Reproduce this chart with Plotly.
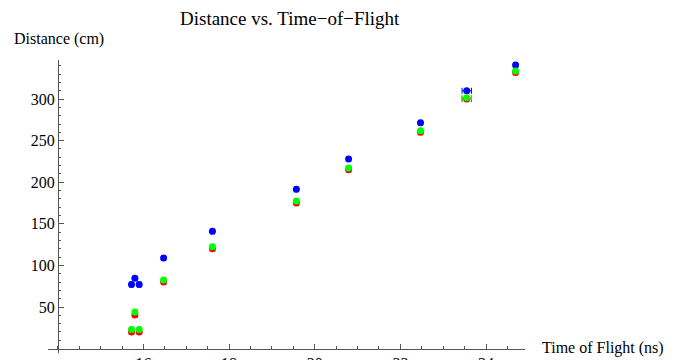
import plotly.graph_objects as go

# Data
time_ns = [15.72, 15.80, 15.90, 16.47, 17.61, 19.57, 20.79, 22.47, 23.55, 24.69]
dist_blue = [77, 84.5, 77, 109, 141, 191.5, 228, 271.5, 310, 341]
dist_red = [20, 40.5, 20, 80, 120, 175, 215, 260, 300, 332]
dist_green = [23, 44, 23, 82.5, 122.5, 177.4, 217, 262, 301.6, 333.7]
time_err = [0.04, 0.04, 0.04, 0.04, 0.04, 0.04, 0.04, 0.04, 0.11, 0.04]

x_ticks = [16, 18, 20, 22, 24]
y_ticks = [50, 100, 150, 200, 250, 300]

W, H = 678, 360
FONT = "Liberation Serif, Times New Roman, serif"

fig = go.Figure()
for ys, col in [(dist_blue, "#0000ff"), (dist_red, "#ff0000"), (dist_green, "#00ff00")]:
    fig.add_trace(go.Scatter(
        x=time_ns, y=ys, mode="markers",
        marker=dict(color=col, size=7, line=dict(width=0)),
        error_x=dict(type="data", array=time_err, color=col, thickness=1, width=3),
        showlegend=False,
    ))

xr = [13.77, 24.91]
yr = [-5.3, 347]
x0p, x1p = 48, 525
y0p, y1p = 353, 60
dom_x = [x0p / W, x1p / W]
dom_y = [1 - y0p / H, 1 - y1p / H]

yaxis_pos = dom_x[0] + (14 - xr[0]) / (xr[1] - xr[0]) * (dom_x[1] - dom_x[0])
xaxis_pos = dom_y[0] + (0 - yr[0]) / (yr[1] - yr[0]) * (dom_y[1] - dom_y[0])

x_minor = [v / 2 for v in range(28, 50)]
y_minor = list(range(10, 350, 10))

axcol = "#555555"
fig.update_layout(
    width=W, height=H,
    margin=dict(l=0, r=0, t=0, b=0, autoexpand=False),
    paper_bgcolor="white", plot_bgcolor="white",
    font=dict(family=FONT, size=16, color="black"),
    xaxis=dict(domain=dom_x, range=xr, anchor="free", position=xaxis_pos, automargin=False,
               showgrid=False, zeroline=False, showline=True, linecolor=axcol, linewidth=1,
               tickmode="array", tickvals=x_ticks, ticks="inside", ticklen=5, tickcolor=axcol,
               minor=dict(tickmode="array", tickvals=x_minor, ticks="inside", ticklen=2.5, tickcolor=axcol),
               tickfont=dict(family=FONT, size=16)),
    yaxis=dict(domain=dom_y, range=yr, anchor="free", position=yaxis_pos, automargin=False,
               showgrid=False, zeroline=False, showline=True, linecolor=axcol, linewidth=1,
               tickmode="array", tickvals=y_ticks, ticks="inside", ticklen=5, tickcolor=axcol,
               minor=dict(tickmode="array", tickvals=y_minor, ticks="inside", ticklen=2.5, tickcolor=axcol),
               tickfont=dict(family=FONT, size=16)),
    annotations=[
        dict(text="Distance vs. Time\u2212of\u2212Flight", x=290 / W, y=1 - 18 / H, xref="paper", yref="paper",
             showarrow=False, xanchor="center", yanchor="middle", font=dict(family=FONT, size=19)),
        dict(text="Distance (cm)", x=12 / W, y=1 - 39 / H, xref="paper", yref="paper",
             showarrow=False, xanchor="left", yanchor="middle", font=dict(family=FONT, size=16)),
        dict(text="Time of Flight (ns)", x=540 / W, y=1 - 348 / H, xref="paper", yref="paper",
             showarrow=False, xanchor="left", yanchor="middle", font=dict(family=FONT, size=16)),
    ],
)

fig.write_html("out.html", config={"displayModeBar": False},
               post_script="document.body.style.margin='0px';document.body.style.overflow='hidden';")
